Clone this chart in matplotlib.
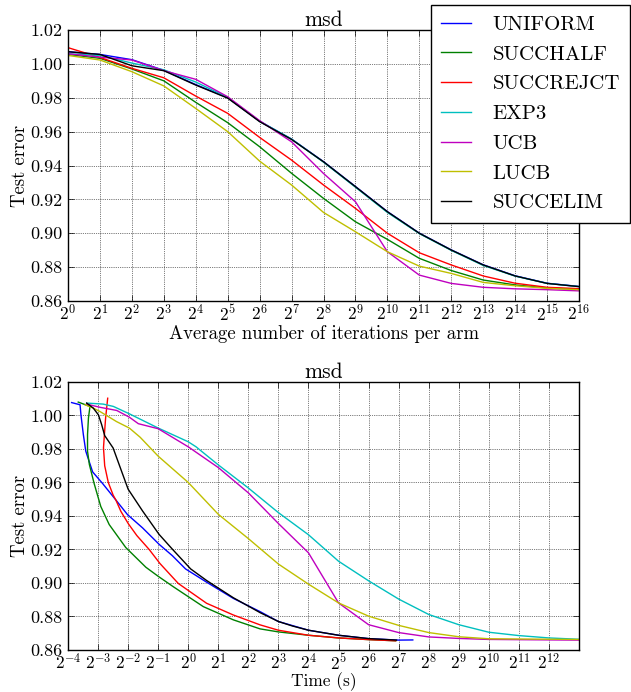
import matplotlib
matplotlib.use("Agg")
import matplotlib.pyplot as plt
from matplotlib.ticker import LogFormatterSciNotation, NullLocator, FixedLocator, FormatStrFormatter

# ---------------------------------------------------------------- data
methods = ["UNIFORM", "SUCCHALF", "SUCCREJCT", "EXP3", "UCB", "LUCB", "SUCCELIM"]
colors = ["b", "g", "r", "c", "m", "y", "k"]

# test error vs. average number of iterations per arm
iters_per_arm = [1, 2, 4, 8, 16, 32, 64, 128, 256, 512, 1024, 2048, 4096,
                 8192, 16384, 32768, 65536]
err_iters = {
    "UNIFORM":   [1.0072, 1.0056, 1.0025, 0.9962, 0.9878, 0.9800, 0.9661, 0.9556, 0.9423,
                  0.9276, 0.9128, 0.9001, 0.8902, 0.8814, 0.8749, 0.8705, 0.8686],
    "SUCCHALF":  [1.0056, 1.0033, 0.9970, 0.9900, 0.9773, 0.9653, 0.9511, 0.9354, 0.9206,
                  0.9068, 0.8964, 0.8852, 0.8780, 0.8724, 0.8695, 0.8677, 0.8669],
    "SUCCREJCT": [1.0096, 1.0038, 0.9974, 0.9918, 0.9810, 0.9708, 0.9566, 0.9432, 0.9285,
                  0.9147, 0.9000, 0.8885, 0.8813, 0.8748, 0.8705, 0.8681, 0.8673],
    "EXP3":      [1.0060, 1.0050, 1.0005, 0.9965, 0.9893, 0.9802, 0.9662, 0.9556, 0.9420,
                  0.9272, 0.9123, 0.8998, 0.8899, 0.8810, 0.8747, 0.8704, 0.8685],
    "UCB":       [1.0060, 1.0040, 1.0023, 0.9960, 0.9909, 0.9806, 0.9665, 0.9540, 0.9353,
                  0.9186, 0.8891, 0.8753, 0.8704, 0.8681, 0.8672, 0.8667, 0.8660],
    "LUCB":      [1.0050, 1.0023, 0.9954, 0.9870, 0.9737, 0.9600, 0.9426, 0.9285, 0.9123,
                  0.9009, 0.8891, 0.8806, 0.8763, 0.8710, 0.8690, 0.8675, 0.8667],
    "SUCCELIM":  [1.0072, 1.0056, 0.9989, 0.9960, 0.9875, 0.9798, 0.9659, 0.9554, 0.9422,
                  0.9275, 0.9127, 0.9000, 0.8901, 0.8813, 0.8748, 0.8704, 0.8685],
}

# test error vs. wall-clock time (seconds)
time_s = {
    "UNIFORM":   [0.0679, 0.0825, 0.0842, 0.0890, 0.0941, 0.1022, 0.1103, 0.1387, 0.1881,
                  0.2465, 0.3487, 0.5105, 0.6931, 0.9394, 1.526, 2.828, 5.242, 8, 16, 32,
                  64, 128, 177.3],
    "SUCCHALF":  [0.0791, 0.1037, 0.1001, 0.0980, 0.0980, 0.1022, 0.1141, 0.1330, 0.1615,
                  0.2365, 0.3763, 0.5, 0.7071, 1.414, 2.828, 5.242, 8, 16, 32, 64, 119.4],
    "SUCCREJCT": [0.1560, 0.1487, 0.1446, 0.1416, 0.1456, 0.1582, 0.1768, 0.1881, 0.2117,
                  0.2517, 0.3057, 0.4061, 0.5212, 0.7955, 1.526, 2.828, 5.242, 8, 16, 32,
                  64, 119.4],
    "EXP3":      [0.0961, 0.1406, 0.1780, 0.2570, 0.5, 1, 1.197, 2, 4, 8, 16, 32, 64, 128,
                  256, 512, 1024, 2048, 4096, 8192],
    "UCB":       [0.0961, 0.1303, 0.1921, 0.2570, 0.3164, 0.5, 1, 2, 4, 8, 16, 32, 64, 128,
                  256, 512, 1024, 8192],
    "LUCB":      [0.0928, 0.1119, 0.1303, 0.1908, 0.2570, 0.3299, 0.5, 1, 2, 4, 8, 16, 32,
                  64, 128, 256, 512, 1024, 8192],
    "SUCCELIM":  [0.0961, 0.1119, 0.1259, 0.1358, 0.1456, 0.1768, 0.2146, 0.25, 0.3487,
                  0.5105, 0.6931, 1.057, 1.526, 2.828, 5.242, 8, 11.08, 16, 32, 64, 121.9],
}
err_time = {
    "UNIFORM":   [1.0077, 1.0064, 1.0004, 0.9886, 0.9787, 0.9722, 0.9663, 0.9594, 0.9496,
                  0.9408, 0.9329, 0.9231, 0.9163, 0.9084, 0.9005, 0.8908, 0.8829, 0.8770,
                  0.8718, 0.8688, 0.8668, 0.8659, 0.8660],
    "SUCCHALF":  [1.0080, 1.0054, 0.9985, 0.9886, 0.9787, 0.9708, 0.9594, 0.9457, 0.9349,
                  0.9212, 0.9094, 0.9040, 0.8978, 0.8859, 0.8780, 0.8726, 0.8708, 0.8688,
                  0.8672, 0.8662, 0.8655],
    "SUCCREJCT": [1.0103, 0.9985, 0.9886, 0.9807, 0.9700, 0.9600, 0.9525, 0.9496, 0.9427,
                  0.9353, 0.9283, 0.9200, 0.9116, 0.8997, 0.8879, 0.8809, 0.8750, 0.8718,
                  0.8688, 0.8672, 0.8662, 0.8655],
    "EXP3":      [1.0074, 1.0068, 1.0054, 1.0010, 0.9925, 0.9843, 0.9813, 0.9705, 0.9567,
                  0.9420, 0.9288, 0.9130, 0.9013, 0.8904, 0.8812, 0.8751, 0.8706, 0.8686,
                  0.8672, 0.8664],
    "UCB":       [1.0068, 1.0049, 1.0030, 0.9990, 0.9951, 0.9921, 0.9813, 0.9689, 0.9538,
                  0.9355, 0.9180, 0.8881, 0.8751, 0.8704, 0.8678, 0.8669, 0.8663, 0.8659],
    "LUCB":      [1.0064, 1.0044, 1.0024, 0.9964, 0.9925, 0.9870, 0.9757, 0.9600, 0.9410,
                  0.9265, 0.9113, 0.8993, 0.8881, 0.8802, 0.8747, 0.8704, 0.8679, 0.8667,
                  0.8663],
    "SUCCELIM":  [1.0074, 1.0044, 1.0004, 0.9945, 0.9880, 0.9806, 0.9668, 0.9560, 0.9430,
                  0.9290, 0.9202, 0.9084, 0.9015, 0.8912, 0.8823, 0.8770, 0.8743, 0.8718,
                  0.8688, 0.8668, 0.8659],
}

time_ticks = [2.0 ** k for k in range(-4, 13)]
y_ticks = [0.86, 0.88, 0.90, 0.92, 0.94, 0.96, 0.98, 1.00, 1.02]

# ---------------------------------------------------------------- style
plt.rcParams.update({
    "font.family": "cmr10",
    "mathtext.fontset": "cm",
    "axes.formatter.use_mathtext": True,
    "font.size": 13,
    "xtick.labelsize": 12.5,
    "ytick.labelsize": 13,
    "axes.labelsize": 13.5,
    "axes.titlesize": 15.5,
    "xtick.direction": "in",
    "ytick.direction": "in",
    "xtick.top": True,
    "ytick.right": True,
    "xtick.major.size": 4,
    "ytick.major.size": 4,
    "xtick.major.width": 0.5,
    "ytick.major.width": 0.5,
    "xtick.major.pad": 1.5,
    "ytick.major.pad": 4,
    "grid.color": "k",
    "grid.linestyle": ":",
    "grid.linewidth": 0.5,
    "axes.linewidth": 1.0,
    "axes.edgecolor": "k",
})

fig = plt.figure(figsize=(6.31, 6.92), dpi=100)
ax1 = fig.add_axes([0.1078, 0.565, 0.8098, 0.3916])
ax2 = fig.add_axes([0.1078, 0.0607, 0.8098, 0.3873])

lines = []
for name, col in zip(methods, colors):
    ln, = ax1.plot(iters_per_arm, err_iters[name], color=col, lw=1.0, label=name)
    lines.append(ln)
    ax2.plot(time_s[name], err_time[name], color=col, lw=1.0)

for ax in (ax1, ax2):
    ax.set_xscale("log", base=2)
    ax.set_ylim(0.86, 1.02)
    ax.yaxis.set_major_locator(FixedLocator(y_ticks))
    ax.yaxis.set_major_formatter(FormatStrFormatter("%.2f"))
    ax.xaxis.set_major_formatter(LogFormatterSciNotation(base=2))
    ax.xaxis.set_minor_locator(NullLocator())
    ax.yaxis.set_minor_locator(NullLocator())
    ax.grid(True)
    ax.set_ylabel("Test error", labelpad=1)
    ax.set_title("msd", pad=3)

ax1.set_xlim(1, 65536)
ax1.xaxis.set_major_locator(FixedLocator(iters_per_arm))
ax1.set_xlabel("Average number of iterations per arm", labelpad=1)

ax2.set_xlim(2.0 ** -4, 2.0 ** 13)
ax2.xaxis.set_major_locator(FixedLocator(time_ticks))
ax2.set_xlabel("Time (s)", fontsize=12.5, va="bottom")
ax2.xaxis.set_label_coords(0.5, -0.152)

leg = fig.legend(lines, methods, loc="upper left",
                 bbox_to_anchor=(431 / 631, 1 - 5 / 692),
                 bbox_transform=fig.transFigure, borderaxespad=0,
                 fancybox=False, framealpha=1, edgecolor="k",
                 handlelength=1.41, handletextpad=1.04, labelspacing=0.535,
                 borderpad=0.5, fontsize=15)
leg.get_frame().set_linewidth(1.0)

fig.savefig("out.png", dpi=100)
